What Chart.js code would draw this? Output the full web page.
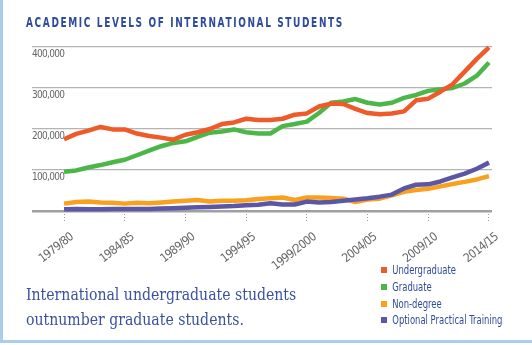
<!DOCTYPE html>
<html>
<head>
<meta charset="utf-8">
<script src="https://cdn.jsdelivr.net/npm/chart.js@4.4.1/dist/chart.umd.min.js"></script>
<style>
  html, body { margin: 0; padding: 0; background: #fff; }
  #wrap { position: relative; width: 532px; height: 345px; overflow: hidden; }
  #frame { position: absolute; left: 0; top: 0; width: 529px; height: 340px; border-left: 3px solid #a9cdea; border-bottom: 3px solid #a9cdea; }
  #chartBox { position: absolute; left: 0; top: 0; width: 532px; height: 345px; }
  #title { position: absolute; left: 26px; top: 14px; font: bold 13.5px "DejaVu Sans Condensed", sans-serif; letter-spacing: 2.2px; color: #2f4b9c; white-space: nowrap; transform: scaleX(0.74); transform-origin: 0 0; }
  #caption { position: absolute; left: 26px; top: 282px; font: 17px "DejaVu Serif Condensed", "Liberation Serif", serif; line-height: 24.5px; color: #3a519e; white-space: nowrap; transform: scaleX(0.92); transform-origin: 0 0; }
  #legend { position: absolute; left: 381px; top: 262px; font: 12.5px "DejaVu Sans Condensed", sans-serif; color: #2f4b9c; line-height: 16.8px; white-space: nowrap; transform: scaleX(0.75); transform-origin: 0 0; }
  #legend .sw { display: inline-block; width: 8px; height: 6px; margin-right: 7px; vertical-align: 1px; }
</style>
</head>
<body>
<div id="wrap">
  <div id="frame"></div>
  <div id="chartBox"><canvas id="chart"></canvas></div>
  <div id="title">ACADEMIC LEVELS OF INTERNATIONAL STUDENTS</div>
  <div id="caption">International undergraduate students<br>outnumber graduate students.</div>
  <div id="legend"></div>
</div>
<script>
// academic years 1979/80 .. 2014/15
const years = [
  '1979/80', '1980/81', '1981/82', '1982/83', '1983/84', '1984/85', '1985/86', '1986/87', '1987/88', '1988/89',
  '1989/90', '1990/91', '1991/92', '1992/93', '1993/94', '1994/95', '1995/96', '1996/97', '1997/98', '1998/99',
  '1999/2000', '2000/01', '2001/02', '2002/03', '2003/04', '2004/05', '2005/06', '2006/07', '2007/08', '2008/09',
  '2009/10', '2010/11', '2011/12', '2012/13', '2013/14', '2014/15'
];

// students
const undergraduate = [
  175000, 188000, 196000, 205000, 199000, 199000, 189000, 183000, 179000, 174000,
  186000, 192000, 200000, 212000, 216000, 225000, 222000, 222000, 225000, 235000,
  238000, 255000, 262000, 261000, 249000, 239000, 236000, 238000, 243000, 270000,
  274000, 291000, 309000, 340000, 371000, 399000
];
const graduate = [
  96000, 99000, 106000, 112000, 119000, 125000, 136000, 147000, 158000, 166000,
  170000, 181000, 191000, 194000, 199000, 192000, 189000, 189000, 207000, 212000,
  218000, 239000, 264000, 267000, 273000, 264000, 260000, 264000, 276000, 283000,
  293000, 297000, 300000, 311000, 330000, 362000
];
const nonDegree = [
  18000, 22000, 23000, 21000, 20000, 18000, 20000, 19000, 21000, 23000,
  25000, 27000, 23000, 25000, 25000, 26000, 29000, 31000, 33000, 27000,
  33000, 33000, 32000, 30000, 22000, 28000, 30000, 38000, 47000, 51000,
  54000, 60000, 66000, 71000, 77000, 85000
];
const opt = [
  4000, 5000, 4000, 4000, 5000, 5000, 5000, 5000, 6000, 7000,
  8000, 9000, 10000, 11000, 12000, 14000, 15000, 19000, 16000, 16000,
  23000, 21000, 22000, 25000, 28000, 31000, 35000, 40000, 55000, 64000,
  65000, 72000, 82000, 91000, 103000, 118000
];

const yTicks = [0, 100000, 200000, 300000, 400000];
const xTickIdx = [0, 5, 10, 15, 20, 25, 30, 35];

const series = [
  { label: 'Undergraduate', data: undergraduate, color: '#ef5a2a', order: 1 },
  { label: 'Graduate', data: graduate, color: '#4cb748', order: 2 },
  { label: 'Non-degree', data: nonDegree, color: '#f7a11e', order: 4 },
  { label: 'Optional Practical Training', data: opt, color: '#5b56a6', order: 3 }
];

// legend (html)
const legendEl = document.getElementById('legend');
legendEl.innerHTML = series.map(s =>
  `<div><span class="sw" style="background:${s.color}"></span>${s.label}</div>`).join('');

const fontFamily = '"DejaVu Sans Condensed", sans-serif';

// squeeze the axis text a bit, the original uses a narrow face
const narrowText = {
  id: 'narrowText',
  beforeDraw(chart) { chart.ctx.letterSpacing = '-0.7px'; }
};

const ctx = document.getElementById('chart').getContext('2d');
new Chart(ctx, {
  type: 'line',
  data: {
    datasets: series.map(s => ({
      label: s.label,
      data: s.data.map((v, i) => ({ x: i, y: v })),
      borderColor: s.color,
      backgroundColor: s.color,
      borderWidth: 4.5,
      pointRadius: 0,
      tension: 0,
      borderJoinStyle: 'round',
      order: s.order,
      clip: false
    }))
  },
  plugins: [narrowText],
  options: {
    responsive: true,
    maintainAspectRatio: false,
    animation: false,
    layout: { padding: { left: 32, top: 47, right: 40, bottom: 0 } },
    plugins: { legend: { display: false }, tooltip: { enabled: false } },
    scales: {
      x: {
        type: 'linear',
        min: -2.64,
        max: 35.25,
        afterBuildTicks: scale => { scale.ticks = xTickIdx.map(v => ({ value: v })); },
        afterFit: scale => { scale.height = 134; scale.paddingLeft = 0; scale.paddingRight = 0; },
        grid: {
          drawOnChartArea: false,
          drawTicks: true,
          tickLength: 11,
          tickColor: '#9a9a9a',
          tickWidth: 1,
          tickBorderDash: [1, 2]
        },
        border: { display: false },
        ticks: {
          autoSkip: false,
          minRotation: 38,
          maxRotation: 38,
          padding: 8,
          labelOffset: 8,
          color: '#666',
          font: { family: fontFamily, size: 12 },
          callback: v => years[v]
        }
      },
      y: {
        min: 0,
        max: 400000,
        afterBuildTicks: scale => { scale.ticks = yTicks.map(v => ({ value: v })); },
        afterFit: scale => { scale.width = 0; scale.paddingTop = 0; scale.paddingBottom = 0; },
        border: { display: false },
        grid: {
          drawTicks: false,
          color: c => c.tick.value === 0 ? '#a0a0a0' : '#b4b4b4',
          lineWidth: c => c.tick.value === 0 ? 2.5 : 1.2
        },
        ticks: {
          mirror: true,
          padding: 0,
          labelOffset: 7,
          color: '#666',
          font: { family: fontFamily, size: 10 },
          callback: v => v === 0 ? '' : v.toLocaleString('en-US')
        }
      }
    }
  }
});
</script>
</body>
</html>
